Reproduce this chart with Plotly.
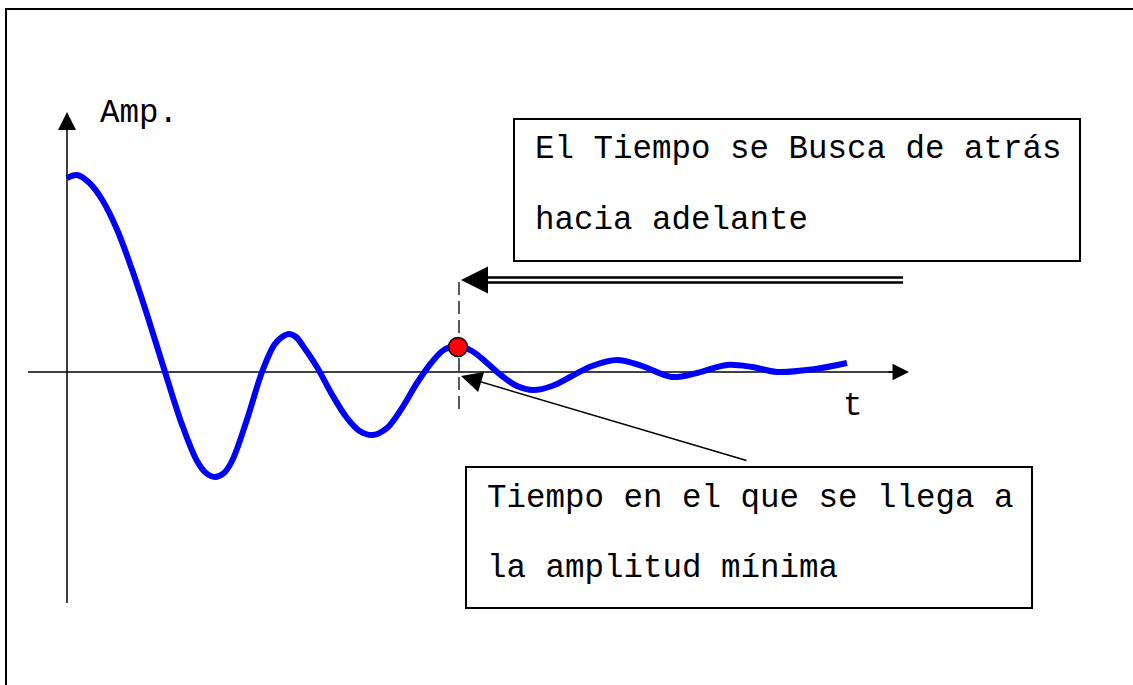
import plotly.graph_objects as go

# Damped response: sampled points (time, amplitude)
t_vals = [0, 0.2, 0.45, 0.7, 1.0, 1.3, 1.6, 1.96, 2.3, 2.6, 2.78, 2.96, 3.14, 3.3, 3.6,
          3.9, 4.15, 4.3, 4.44, 4.58, 4.72, 5.0, 5.3, 5.6, 5.85, 6.12, 6.4, 6.7, 7.0,
          7.3, 7.55, 7.82, 8.1, 8.4, 8.7, 9.0, 9.32, 9.7, 10.1, 10.5, 11.0, 11.5,
          12.1, 12.6, 13.2, 13.7, 14.2, 14.9, 15.6]
amp_vals = [3.88, 3.94, 3.78, 3.45, 2.85, 2.05, 1.15, 0.0, -1.05, -1.78, -2.02, -2.10,
            -2.02, -1.78, -0.95, 0.0, 0.55, 0.70, 0.76, 0.70, 0.52, 0.10, -0.45, -0.92,
            -1.18, -1.26, -1.12, -0.72, -0.22, 0.20, 0.45, 0.52, 0.42, 0.18, -0.08,
            -0.28, -0.36, -0.28, -0.08, 0.12, 0.24, 0.12, -0.10, -0.02, 0.14, 0.10,
            0.0, 0.05, 0.18]

# Instant at which the residual amplitude is reached
t_mark = [7.82]
amp_mark = [0.50]

# Text
amp_label = "Amp."
t_label = "t"
search_lines = ["El Tiempo se Busca de atrás", "hacia adelante"]
reach_lines = ["Tiempo en el que se llega a", "la amplitud mínima"]

W, H = 1133, 685
OX, OY, S = 67, 372, 50  # axis origin in pixels and pixels per unit

FONT = dict(family="Liberation Mono, Courier New, monospace", size=32.5, color="black")


def fx(p):
    return p / W


def fy(p):
    return 1 - p / H


fig = go.Figure()

fig.add_trace(go.Scatter(
    x=t_vals, y=amp_vals, mode="lines",
    line=dict(color="#0000FF", width=6, shape="spline", smoothing=1.0),
    hoverinfo="skip", showlegend=False,
))
fig.add_trace(go.Scatter(
    x=t_mark, y=amp_mark, mode="markers",
    marker=dict(color="#FF0000", size=19, line=dict(color="black", width=1.5)),
    hoverinfo="skip", showlegend=False,
))

shapes = []
annotations = []

# Outer frame: one open path along the left and top edges
shapes.append(dict(type="path", xref="paper", yref="paper",
                   path=f"M {fx(6)},0 L {fx(6)},{fy(9)} L 1,{fy(9)}",
                   line=dict(color="black", width=2), layer="above"))

# Axes lines
shapes.append(dict(type="line", xref="x", yref="y", x0=-0.78, x1=16.6, y0=0, y1=0,
                   line=dict(color="black", width=1.5), layer="below"))
shapes.append(dict(type="line", xref="x", yref="y", x0=0, x1=0, y0=-4.62, y1=4.9,
                   line=dict(color="black", width=1.5), layer="below"))

# Axes arrowheads
annotations.append(dict(x=16.84, y=0, ax=16.4, ay=0, xref="x", yref="y", axref="x", ayref="y",
                        text="", showarrow=True, arrowhead=2, arrowsize=2.2, arrowwidth=1.5,
                        arrowcolor="black"))
annotations.append(dict(x=0, y=5.2, ax=0, ay=4.8, xref="x", yref="y", axref="x", ayref="y",
                        text="", showarrow=True, arrowhead=2, arrowsize=2.4, arrowwidth=1.5,
                        arrowcolor="black"))

# Dashed marker line
shapes.append(dict(type="line", xref="x", yref="y", x0=t_mark[0] + 0.02, x1=t_mark[0] + 0.02,
                   y0=-0.74, y1=1.88, line=dict(color="black", width=1.3, dash="13px,6px"),
                   layer="below"))

# Double arrow (search direction)
for yy in (1.89, 1.79):
    shapes.append(dict(type="line", xref="x", yref="y", x0=8.2, x1=16.72, y0=yy, y1=yy,
                       line=dict(color="black", width=2.5)))
annotations.append(dict(x=t_mark[0] + 0.06, y=1.84, ax=8.4, ay=1.84, xref="x", yref="y",
                        axref="x", ayref="y", text="", showarrow=True, arrowhead=2,
                        arrowsize=5.4, arrowwidth=1, arrowcolor="black"))

# Pointer arrow to the instant
annotations.append(dict(x=t_mark[0] + 0.06, y=-0.08, ax=13.62, ay=-1.78, xref="x", yref="y",
                        axref="x", ayref="y", text="", showarrow=True, arrowhead=2,
                        arrowsize=2.8, arrowwidth=1.5, arrowcolor="black"))

# Text boxes
shapes.append(dict(type="rect", xref="paper", yref="paper",
                   x0=fx(514), x1=fx(1080), y0=fy(119), y1=fy(261),
                   line=dict(color="black", width=2)))
shapes.append(dict(type="rect", xref="paper", yref="paper",
                   x0=fx(466), x1=fx(1032), y0=fy(467), y1=fy(608),
                   line=dict(color="black", width=2)))

for i, line in enumerate(search_lines):
    annotations.append(dict(x=fx(533), y=fy(150 + 70 * i), xref="paper", yref="paper",
                            text=line, showarrow=False, xanchor="left", yanchor="middle",
                            font=FONT))
for i, line in enumerate(reach_lines):
    annotations.append(dict(x=fx(485), y=fy(498 + 70 * i), xref="paper", yref="paper",
                            text=line, showarrow=False, xanchor="left", yanchor="middle",
                            font=FONT))

# Axis labels
annotations.append(dict(x=fx(98), y=fy(114), xref="paper", yref="paper", text=amp_label,
                        showarrow=False, xanchor="left", yanchor="middle", font=FONT))
annotations.append(dict(x=fx(853), y=fy(406), xref="paper", yref="paper", text=t_label,
                        showarrow=False, xanchor="center", yanchor="middle", font=FONT))

fig.update_layout(
    width=W, height=H, autosize=False,
    margin=dict(l=0, r=0, t=0, b=0, pad=0),
    paper_bgcolor="white", plot_bgcolor="white",
    xaxis=dict(range=[(0 - OX) / S, (W - OX) / S], visible=False, fixedrange=True),
    yaxis=dict(range=[(OY - H) / S, OY / S], visible=False, fixedrange=True),
    shapes=shapes, annotations=annotations,
    showlegend=False,
)

fig.write_html("out.html", config=dict(displayModeBar=False))
